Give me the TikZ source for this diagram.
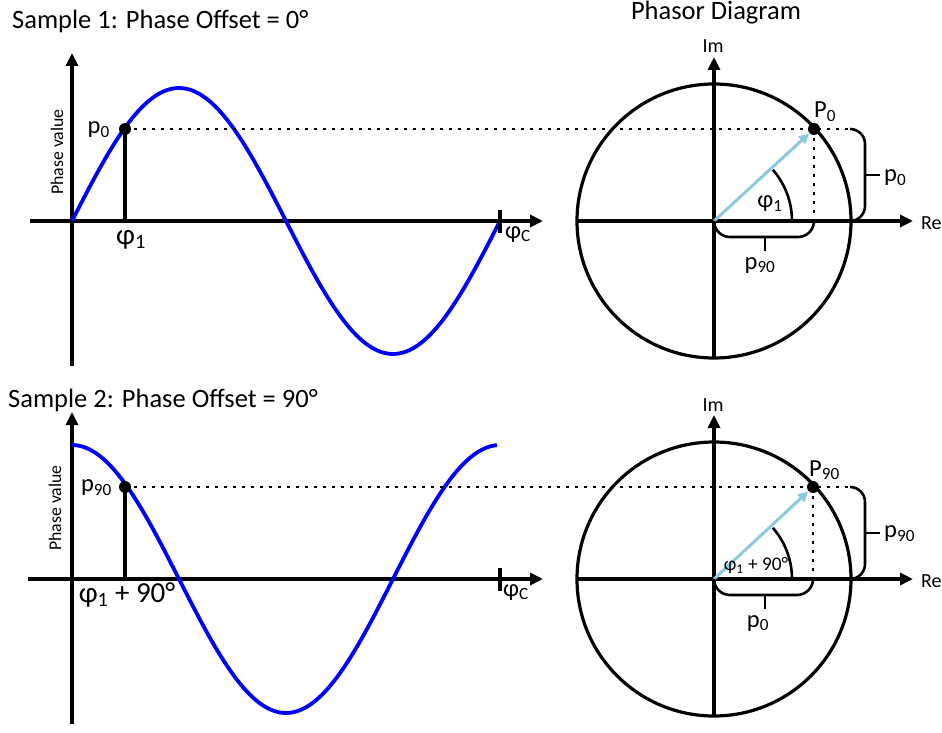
\documentclass[tikz,border=0pt]{standalone}
\usepackage{fontspec}
\setmainfont{Carlito}
\usepackage{tikz}
\usetikzlibrary{arrows.meta,calc}

\definecolor{waveblue}{RGB}{0,0,255}
\definecolor{phasorblue}{RGB}{140,200,222}

\tikzset{
  axisline/.style={line width=3.2pt,-{Triangle[length=13pt,width=12pt]}},
  plainline/.style={line width=3.2pt},
  waveline/.style={line width=3.8pt,waveblue},
  dotline/.style={line width=2.6pt,dash pattern=on 2.6pt off 6.4pt},
  phasorline/.style={line width=3pt,phasorblue,-{Triangle[length=10pt,width=10pt]}},
  bracket/.style={line width=2.6pt},
  lbl/.style={inner sep=0pt,font=\fontsize{24.5}{28}\selectfont},
  axlbl/.style={inner sep=0pt,font=\fontsize{20}{24}\selectfont},
  biglbl/.style={inner sep=0pt,font=\fontsize{29}{32}\selectfont},
  ttl/.style={inner sep=0pt,font=\fontsize{26.5}{30}\selectfont},
  small/.style={inner sep=0pt,font=\fontsize{17.8}{20}\selectfont},
}

\begin{document}
\begin{tikzpicture}[x=1pt,y=-1pt]
  \useasboundingbox (0,0) rectangle (942,733);

  % Titles
  \node[ttl,anchor=base west] (title1) at (12,29) {Sample 1: Phase Offset = 0°};
  \node[ttl,anchor=base west] (title2) at (8,407) {Sample 2: Phase Offset = 90°};
  \node[ttl,anchor=base] (titlep) at (716,20) {Phasor Diagram};

  % Sample 1: wave
  \begin{scope}
    \coordinate (xa) at (30,221);
    \coordinate (xb) at (543,221);
    \coordinate (ya) at (72,366);
    \coordinate (yb) at (72,53);
    \coordinate (dot) at (125,129);
    \coordinate (foot) at (125,221);
    \draw[axisline] (xa) -- (xb);
    \draw[axisline] (ya) -- (yb);
    \draw[waveline] plot[domain=0:428,samples=120,smooth] ({72+\x},{221-133*sin(\x*0.8411)});
    \draw[plainline] (500,210) -- (500,233);
    \draw[plainline] (dot) -- (foot);
    \fill (dot) circle (6pt);
    \node[small,rotate=90] (yl) at (57,152) {Phase value};
    \node[lbl,anchor=east] (pval) at (110,130) {p\textsubscript{0}};
    \node[biglbl,anchor=north] (phi) at (131,230) {φ\textsubscript{1}};
    \node[lbl,anchor=north west] (phic) at (505,226) {φ\textsubscript{C}};
  \end{scope}

  % Sample 1: phasor
  \begin{scope}
    \coordinate (o) at (714,221);
    \coordinate (P) at (814,129);
    \coordinate (Pr) at (850,129);
    \coordinate (Pf) at (814,221);
    \draw[plainline] (o) circle (137);
    \draw[axisline] (577,221) -- (913,221);
    \draw[axisline] (714,358) -- (714,57);
    \node[axlbl,anchor=base] (im) at (713,53) {Im};
    \node[axlbl,anchor=base west] (re) at (921,229) {Re};
    \draw[dotline] (dot) -- (Pr);
    \draw[dotline] (P) -- (Pf);
    \draw[phasorline] (o) -- ($(o)!0.95!(P)$);
    \fill (P) circle (6pt);
    \draw[bracket] (792,221) arc[start angle=0,end angle=-41,radius=78];
    \node[lbl] (ang) at (770,204) {φ\textsubscript{1}};
    \node[lbl,anchor=base west] (Pl) at (814,118) {P\textsubscript{0}};
    % braces
    \draw[bracket,rounded corners=15pt] (Pr) -- (865,129) -- (865,221) -- (851,221);
    \draw[bracket] (865,175) -- (880,175);
    \node[lbl,anchor=west] (bv) at (884,178) {p\textsubscript{0}};
    \draw[bracket,rounded corners=16pt] (o) -- (714,237) -- (814,237) -- (Pf);
    \draw[bracket] (765,237) -- (765,251);
    \node[lbl,anchor=base] (bh) at (760,269) {p\textsubscript{90}};
  \end{scope}

  % Sample 2: wave
  \begin{scope}[shift={(0,358)}]
    \coordinate (xa) at (28,221);
    \coordinate (xb) at (543,221);
    \coordinate (ya) at (72,366);
    \coordinate (yb) at (72,54);
    \coordinate (dot) at (125,129);
    \coordinate (foot) at (125,221);
    \draw[axisline] (xa) -- (xb);
    \draw[axisline] (ya) -- (yb);
    \draw[waveline] plot[domain=0:425,samples=120,smooth] ({72+\x},{221-134*cos(\x*0.8411)});
    \draw[plainline] (500,210) -- (500,233);
    \draw[plainline] (dot) -- (foot);
    \fill (dot) circle (6pt);
    \node[small,rotate=90] (yl) at (55,150) {Phase value};
    \node[lbl,anchor=east] (pval) at (112,130) {p\textsubscript{90}};
    \node[biglbl,anchor=north] (phi) at (127,224) {φ\textsubscript{1} + 90°};
    \node[lbl,anchor=north west] (phic) at (503,226) {φ\textsubscript{C}};
  \end{scope}

  % Sample 2: phasor
  \begin{scope}[shift={(0,358)}]
    \coordinate (o) at (714,221);
    \coordinate (P) at (813,129);
    \coordinate (Pr) at (850,129);
    \coordinate (Pf) at (813,221);
    \draw[plainline] (o) circle (137);
    \draw[axisline] (577,221) -- (913,221);
    \draw[axisline] (714,358) -- (714,57);
    \node[axlbl,anchor=base] (im) at (713,53) {Im};
    \node[axlbl,anchor=base west] (re) at (921,229) {Re};
    \draw[dotline] (dot) -- (Pr);
    \draw[dotline] (P) -- (Pf);
    \draw[phasorline] (o) -- ($(o)!0.95!(P)$);
    \fill (P) circle (6pt);
    \draw[bracket] (792,221) arc[start angle=0,end angle=-41,radius=78];
    \node[small,font=\fontsize{19.3}{22}\selectfont] (ang) at (756,207) {φ\textsubscript{1} + 90°};
    \node[lbl,anchor=base west] (Pl) at (809,118) {P\textsubscript{90}};
    % braces
    \draw[bracket,rounded corners=15pt] (Pr) -- (865,129) -- (865,221) -- (851,221);
    \draw[bracket] (865,175) -- (880,175);
    \node[lbl,anchor=west] (bv) at (884,176) {p\textsubscript{90}};
    \draw[bracket,rounded corners=16pt] (o) -- (714,237) -- (813,237) -- (Pf);
    \draw[bracket] (765,237) -- (765,251);
    \node[lbl,anchor=base] (bh) at (758,269) {p\textsubscript{0}};
  \end{scope}
\end{tikzpicture}
\end{document}
